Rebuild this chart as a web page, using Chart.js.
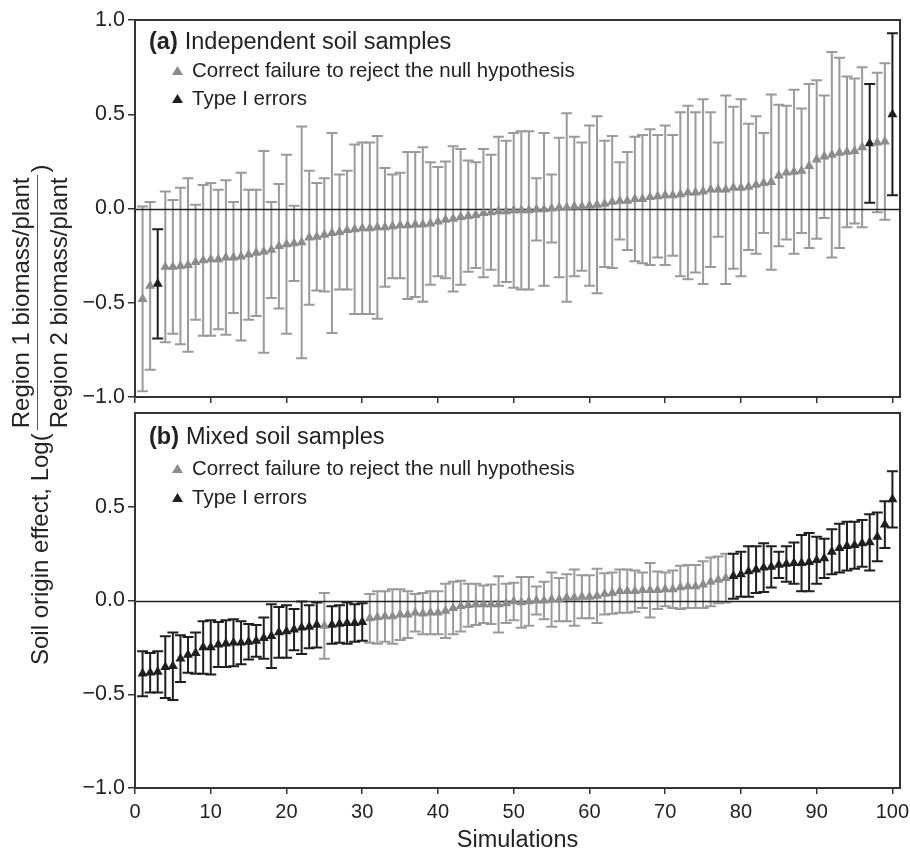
<!DOCTYPE html>
<html>
<head>
<meta charset="utf-8">
<script src="https://cdn.jsdelivr.net/npm/chart.js@4.4.1/dist/chart.umd.min.js"></script>
<style>
  body { margin: 0; background: #fff; font-family: "Liberation Sans", Arial, Helvetica, sans-serif; color: #222; }
  #wrap { position: relative; width: 910px; height: 852px; overflow: hidden; }
  canvas { position: absolute; left: 0; }
  .title { position: absolute; font-size: 23.5px; line-height: 1; white-space: nowrap; }
  .title b { margin-right: 7px; }
  .leg { position: absolute; font-size: 20.5px; line-height: 1; white-space: nowrap; }
  .tri { position: absolute; width: 11px; height: 9px; clip-path: polygon(50% 0, 100% 100%, 0 100%); }
  #ylab { position: absolute; left: 9px; top: 665px; transform-origin: 0 0; transform: rotate(-90deg);
          display: flex; align-items: center; white-space: nowrap; font-size: 24px; line-height: 1; }
  .frac { display: inline-flex; flex-direction: column; align-items: center; padding: 0 3px; }
  .num { border-bottom: 1.5px solid #555; padding: 0 2px 4px 2px; }
  .den { padding-top: 9px; }
</style>
</head>
<body>
<div id="wrap">
  <canvas id="panelA" width="910" height="410" style="top:0"></canvas>
  <canvas id="panelB" width="910" height="470" style="top:400px"></canvas>

  <div class="title" style="left:149px; top:30px"><b>(a)</b>Independent soil samples</div>
  <div class="tri" style="left:172px; top:66px; background:#8c8c8c"></div>
  <div class="leg" style="left:192px; top:60px">Correct failure to reject the null hypothesis</div>
  <div class="tri" style="left:172px; top:94px; background:#1f1f1f"></div>
  <div class="leg" style="left:192px; top:88px">Type I errors</div>

  <div class="title" style="left:149px; top:425px"><b>(b)</b>Mixed soil samples</div>
  <div class="tri" style="left:172px; top:464px; background:#8c8c8c"></div>
  <div class="leg" style="left:192px; top:458px">Correct failure to reject the null hypothesis</div>
  <div class="tri" style="left:172px; top:493px; background:#1f1f1f"></div>
  <div class="leg" style="left:192px; top:487px">Type I errors</div>

  <div id="ylab"><span>Soil origin effect, Log(</span><span class="frac"><span class="num">Region 1 biomass/plant</span><span class="den">Region 2 biomass/plant</span></span><span>)</span></div>
</div>

<script>
// simulation number, sorted by effect size
const sims = [
  1, 2, 3, 4, 5, 6, 7, 8, 9, 10,
  11, 12, 13, 14, 15, 16, 17, 18, 19, 20,
  21, 22, 23, 24, 25, 26, 27, 28, 29, 30,
  31, 32, 33, 34, 35, 36, 37, 38, 39, 40,
  41, 42, 43, 44, 45, 46, 47, 48, 49, 50,
  51, 52, 53, 54, 55, 56, 57, 58, 59, 60,
  61, 62, 63, 64, 65, 66, 67, 68, 69, 70,
  71, 72, 73, 74, 75, 76, 77, 78, 79, 80,
  81, 82, 83, 84, 85, 86, 87, 88, 89, 90,
  91, 92, 93, 94, 95, 96, 97, 98, 99, 100
];

// (a) independent soil samples
const aMean = [
  -0.48, -0.41, -0.40, -0.31, -0.31, -0.305, -0.30, -0.285, -0.275, -0.27,
  -0.27, -0.26, -0.26, -0.255, -0.245, -0.235, -0.23, -0.22, -0.20, -0.19,
  -0.185, -0.18, -0.155, -0.15, -0.14, -0.13, -0.125, -0.115, -0.11, -0.105,
  -0.105, -0.10, -0.10, -0.095, -0.09, -0.09, -0.085, -0.085, -0.08, -0.07,
  -0.06, -0.055, -0.045, -0.04, -0.035, -0.025, -0.02, -0.015, -0.015, -0.01,
  -0.01, -0.01, -0.005, -0.005, 0.0, 0.005, 0.005, 0.01, 0.01, 0.015,
  0.02, 0.025, 0.035, 0.04, 0.04, 0.05, 0.05, 0.06, 0.065, 0.07,
  0.07, 0.075, 0.085, 0.085, 0.09, 0.10, 0.10, 0.10, 0.11, 0.11,
  0.115, 0.125, 0.135, 0.14, 0.175, 0.19, 0.195, 0.20, 0.225, 0.26,
  0.275, 0.285, 0.295, 0.30, 0.305, 0.325, 0.345, 0.35, 0.355, 0.50
];
const aErr = [
  0.49, 0.445, 0.29, 0.40, 0.355, 0.415, 0.46, 0.305, 0.40, 0.405,
  0.37, 0.41, 0.295, 0.445, 0.345, 0.335, 0.535, 0.255, 0.33, 0.475,
  0.20, 0.615, 0.355, 0.285, 0.30, 0.53, 0.305, 0.315, 0.45, 0.455,
  0.455, 0.485, 0.315, 0.275, 0.28, 0.39, 0.385, 0.41, 0.325, 0.29,
  0.31, 0.385, 0.36, 0.295, 0.28, 0.34, 0.305, 0.395, 0.375, 0.41,
  0.42, 0.42, 0.165, 0.405, 0.18, 0.37, 0.50, 0.37, 0.34, 0.425,
  0.47, 0.335, 0.35, 0.205, 0.26, 0.33, 0.34, 0.36, 0.325, 0.37,
  0.32, 0.435, 0.46, 0.425, 0.49, 0.41, 0.25, 0.50, 0.43, 0.47,
  0.335, 0.365, 0.265, 0.465, 0.375, 0.355, 0.435, 0.33, 0.435, 0.42,
  0.325, 0.545, 0.505, 0.40, 0.385, 0.425, 0.315, 0.37, 0.415, 0.43
];
const aTypeI = [3, 97, 100];

// (b) mixed soil samples
const bMean = [
  -0.39, -0.385, -0.38, -0.355, -0.35, -0.31, -0.29, -0.28, -0.25, -0.25,
  -0.235, -0.23, -0.225, -0.225, -0.22, -0.215, -0.20, -0.19, -0.17, -0.165,
  -0.155, -0.145, -0.14, -0.13, -0.135, -0.13, -0.125, -0.12, -0.12, -0.115,
  -0.095, -0.09, -0.085, -0.085, -0.075, -0.075, -0.065, -0.07, -0.065, -0.065,
  -0.055, -0.04, -0.03, -0.025, -0.02, -0.02, -0.02, -0.02, -0.015, -0.005,
  -0.01, -0.005, 0.0, 0.0, 0.005, 0.005, 0.015, 0.015, 0.02, 0.02,
  0.025, 0.035, 0.04, 0.05, 0.05, 0.05, 0.055, 0.055, 0.055, 0.06,
  0.06, 0.07, 0.075, 0.075, 0.085, 0.10, 0.11, 0.12, 0.13, 0.14,
  0.155, 0.165, 0.175, 0.18, 0.19, 0.195, 0.20, 0.20, 0.205, 0.215,
  0.225, 0.26, 0.28, 0.29, 0.295, 0.305, 0.31, 0.34, 0.405, 0.54
];
const bErr = [
  0.12, 0.105, 0.11, 0.165, 0.18, 0.125, 0.095, 0.11, 0.14, 0.145,
  0.12, 0.125, 0.125, 0.115, 0.095, 0.085, 0.11, 0.17, 0.135, 0.14,
  0.11, 0.14, 0.115, 0.12, 0.175, 0.10, 0.10, 0.11, 0.10, 0.10,
  0.13, 0.14, 0.135, 0.145, 0.135, 0.125, 0.10, 0.11, 0.115, 0.115,
  0.145, 0.14, 0.135, 0.115, 0.11, 0.10, 0.105, 0.15, 0.105, 0.10,
  0.135, 0.13, 0.075, 0.10, 0.145, 0.115, 0.125, 0.15, 0.115, 0.115,
  0.145, 0.11, 0.11, 0.115, 0.115, 0.11, 0.095, 0.145, 0.10, 0.09,
  0.10, 0.115, 0.115, 0.115, 0.125, 0.13, 0.125, 0.13, 0.12, 0.12,
  0.135, 0.125, 0.13, 0.11, 0.07, 0.095, 0.11, 0.15, 0.155, 0.125,
  0.105, 0.12, 0.13, 0.13, 0.125, 0.125, 0.15, 0.13, 0.125, 0.15
];
const bTypeI = [
  1, 2, 3, 4, 5, 6, 7, 8, 9, 10, 11, 12, 13, 14, 15, 16, 17, 18, 19, 20, 21, 22, 23, 24,
  26, 27, 28, 29, 30,
  79, 80, 81, 82, 83, 84, 85, 86, 87, 88, 89, 90, 91, 92, 93, 94, 95, 96, 97, 98, 99, 100
];

const xTicks = [0, 10, 20, 30, 40, 50, 60, 70, 80, 90, 100];
const yTicksA = [-1, -0.5, 0, 0.5, 1];
const yTicksB = [-1, -0.5, 0, 0.5];

const FONT = '"Liberation Sans", Arial, Helvetica, sans-serif';
const GREY = '#8c8c8c';
const GREY_BAR = '#9a9a9a';
const BLACK = '#1f1f1f';

// whiskers, zero line and frame
const errorBars = {
  id: 'errorBars',
  beforeDatasetsDraw(chart) {
    const { ctx, chartArea, scales: { x, y } } = chart;
    ctx.save();
    ctx.lineWidth = 2;
    chart.data.datasets.forEach((ds) => {
      ctx.strokeStyle = ds.barColor;
      ds.data.forEach((d) => {
        const px = x.getPixelForValue(d.x);
        const top = y.getPixelForValue(d.y + d.err);
        const bot = y.getPixelForValue(d.y - d.err);
        ctx.beginPath();
        ctx.moveTo(px, top); ctx.lineTo(px, bot);
        ctx.moveTo(px - 5.5, top); ctx.lineTo(px + 5.5, top);
        ctx.moveTo(px - 5.5, bot); ctx.lineTo(px + 5.5, bot);
        ctx.stroke();
      });
    });
    const zy = Math.round(y.getPixelForValue(0)) + 0.5;
    ctx.strokeStyle = '#222';
    ctx.lineWidth = 1.5;
    ctx.beginPath();
    ctx.moveTo(chartArea.left, zy); ctx.lineTo(chartArea.right, zy);
    ctx.stroke();
    ctx.restore();
  },
  afterDraw(chart) {
    const { ctx, chartArea: a } = chart;
    ctx.save();
    ctx.strokeStyle = '#333';
    ctx.lineWidth = 2;
    ctx.strokeRect(a.left, a.top, a.right - a.left, a.bottom - a.top);
    ctx.restore();
  }
};

const fmt = (v) => (v < 0 ? '\u2212' + Math.abs(v).toFixed(1) : v.toFixed(1));

function makePanel(id, mean, err, typeI, yTicks, bottomAxis) {
  const grey = [];
  const black = [];
  sims.forEach((s, i) => {
    const p = { x: s, y: mean[i], err: err[i] };
    (typeI.includes(s) ? black : grey).push(p);
  });

  const gridOpts = { drawOnChartArea: false, drawTicks: true, tickLength: 7, color: '#333', lineWidth: 1.5 };

  return new Chart(document.getElementById(id), {
    type: 'scatter',
    data: {
      datasets: [
        { label: 'Correct failure to reject the null hypothesis', data: grey, pointStyle: 'triangle',
          radius: 5.8, borderWidth: 0, backgroundColor: GREY, borderColor: GREY, barColor: GREY_BAR, clip: false },
        { label: 'Type I errors', data: black, pointStyle: 'triangle',
          radius: 5.8, borderWidth: 0, backgroundColor: BLACK, borderColor: BLACK, barColor: BLACK, clip: false }
      ]
    },
    options: {
      responsive: false,
      animation: false,
      events: [],
      layout: { padding: { left: 75, right: 10, top: bottomAxis ? 13 : 20, bottom: 0 } },
      plugins: { legend: { display: false }, tooltip: { enabled: false } },
      scales: {
        x: {
          type: 'linear', min: 0, max: 101,
          afterBuildTicks: (s) => { s.ticks = xTicks.map((v) => ({ value: v })); },
          afterFit: (s) => {
            s.height = bottomAxis ? 82 : 13;
            s.paddingLeft = 0; s.paddingRight = 0;
          },
          grid: { ...gridOpts, tickLength: 6 },
          border: { display: false },
          ticks: { display: bottomAxis, color: '#222', font: { family: FONT, size: 20 }, padding: 6, maxRotation: 0 },
          title: { display: bottomAxis, text: 'Simulations', color: '#222', font: { family: FONT, size: 23.5 }, padding: { top: 0, bottom: 15 } }
        },
        y: {
          type: 'linear', min: -1, max: 1,
          afterBuildTicks: (s) => { s.ticks = yTicks.map((v) => ({ value: v })); },
          afterFit: (s) => {
            s.width = 60;
            s.paddingTop = 0; s.paddingBottom = 0;
          },
          grid: gridOpts,
          border: { display: false },
          ticks: { color: '#222', font: { family: FONT, size: 21.5 }, padding: 3, callback: fmt }
        }
      }
    },
    plugins: [errorBars]
  });
}

makePanel('panelA', aMean, aErr, aTypeI, yTicksA, false);
makePanel('panelB', bMean, bErr, bTypeI, yTicksB, true);
</script>
</body>
</html>
